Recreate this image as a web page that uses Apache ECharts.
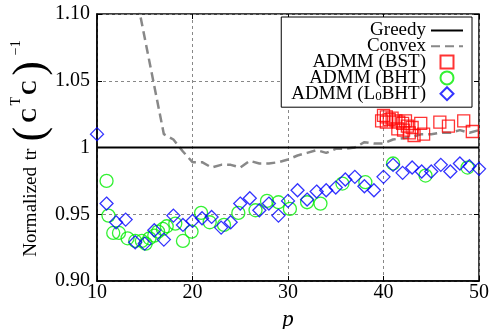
<!DOCTYPE html>
<html><head><meta charset="utf-8">
<script src="https://cdn.jsdelivr.net/npm/echarts@6/dist/echarts.min.js"></script>
<style>html,body{margin:0;padding:0;background:#fff}#c{width:500px;height:329px}</style>
</head><body><div id="c"></div>
<script>
const xTicks = [10, 20, 30, 40, 50];
const yTickLabels = ['0.90', '0.95', '1', '1.05', '1.10'];
const greedy = [[10, 1], [50, 1]];
const convex = [[14,1.118],[15,1.082],[16,1.046],[17,1.010],[18,1.006],[19,0.997],[20,0.989],[21,0.989],[22,0.985],[23,0.987],[24,0.987],[25,0.985],[26,0.990],[27,0.988],[28,0.988],[29,0.989],[30,0.991],[31,0.994],[32,0.996],[33,0.998],[34,0.996],[35,0.999],[36,0.999],[37,1.000],[38,1.004],[39,1.003],[40,1.003],[41,1.006],[42,1.007],[43,1.008],[44,1.010],[45,1.010],[46,1.011],[47,1.011],[48,1.013],[49,1.011],[50,1.013]];
const bst = [[39.8,1.020],[40.0,1.024],[40.3,1.023],[40.3,1.019],[40.6,1.021],[40.9,1.022],[41.3,1.020],[41.5,1.014],[41.6,1.019],[42.0,1.018],[42.1,1.013],[42.3,1.020],[42.5,1.016],[42.7,1.011],[43.0,1.015],[43.2,1.009],[43.9,1.018],[44.2,1.010],[45.9,1.019],[46.8,1.016],[48.4,1.020],[49.3,1.012]];
const bht = [[11.0,0.975],[11.2,0.949],[11.7,0.936],[12.3,0.936],[13.2,0.932],[14.0,0.930],[14.7,0.930],[15.1,0.928],[15.5,0.932],[16.0,0.934],[16.4,0.937],[16.9,0.939],[17.3,0.941],[18.2,0.943],[19.0,0.930],[19.9,0.937],[20.9,0.951],[21.8,0.944],[23.3,0.942],[24.8,0.951],[26.6,0.953],[27.8,0.960],[29.0,0.959],[30.2,0.954],[32.0,0.959],[33.4,0.958],[35.7,0.973],[38.1,0.974],[41.0,0.988],[44.4,0.979],[48.8,0.985]];
const l0bhtX = [10,11,12,13,14,15,16,17,18,19,20,21,22,23,24,25,26,27,28,29,30,31,32,33,34,35,36,37,38,39,40,41,42,43,44,45,46,47,48,49,50];
const l0bhtY = [1.010,0.958,0.944,0.946,0.929,0.928,0.938,0.931,0.949,0.942,0.945,0.947,0.948,0.940,0.944,0.958,0.962,0.953,0.958,0.949,0.960,0.968,0.961,0.967,0.968,0.970,0.976,0.978,0.971,0.968,0.978,0.987,0.981,0.985,0.982,0.982,0.987,0.982,0.988,0.986,0.984];

const serif = "'Liberation Serif', serif";
const chart = echarts.init(document.getElementById('c'), null, {renderer: 'canvas'});
const gridLine = {show: true, lineStyle: {color: '#888', type: [3, 3], width: 1}};
const hideSym = {color: 'rgba(0,0,0,0)', borderColor: 'rgba(0,0,0,0)', borderWidth: 0};
chart.setOption({
  animation: false,
  grid: {left: 97, right: 21, top: 14, bottom: 48, show: true, containLabel: false, outerBoundsMode: 'none',
    borderColor: '#000', borderWidth: 1.5, backgroundColor: 'transparent'},
  legend: {
    right: 28, top: 17, orient: 'vertical', align: 'right',
    backgroundColor: '#fff', borderColor: '#000', borderWidth: 1,
    padding: [4, 8, 4, 10], itemGap: -3.2, itemWidth: 32, itemHeight: 13, symbolKeepAspect: true,
    textStyle: {fontFamily: serif, fontSize: 19, color: '#000',
      rich: {
        a: {fontFamily: serif, fontSize: 19, color: '#000'},
        sub: {fontFamily: serif, fontSize: 13, color: '#000', lineHeight: 10, verticalAlign: 'bottom', padding: [0, 0, 0, 0]}
      }},
    formatter: function (n) { return n === 'ADMM (L0BHT)' ? '{a|ADMM (L}{sub|0}{a|BHT)}' : '{a|' + n + '}'; },
    data: [
      {name: 'Greedy', itemStyle: hideSym},
      {name: 'Convex', itemStyle: hideSym},
      {name: 'ADMM (BST)', icon: 'path://M0,0h10v10h-10z'},
      {name: 'ADMM (BHT)', icon: 'path://M5,0A5,5,0,1,1,5,10A5,5,0,1,1,5,0z'},
      {name: 'ADMM (L0BHT)', icon: 'path://M5,0L10,5L5,10L0,5z'}
    ]
  },
  xAxis: [{
    type: 'value', min: xTicks[0], max: xTicks[xTicks.length - 1], interval: 10,
    axisLine: {show: true, lineStyle: {color: '#000', width: 1.5}},
    axisTick: {show: true, inside: true, length: 5, lineStyle: {color: '#000'}},
    axisLabel: {fontFamily: serif, fontSize: 20, color: '#000', margin: 2},
    splitLine: gridLine,
    name: 'p', nameLocation: 'middle', nameGap: 27,
    nameTextStyle: {fontFamily: serif, fontStyle: 'italic', fontSize: 23, color: '#000'}
  }, {
    type: 'value', position: 'top', min: xTicks[0], max: xTicks[xTicks.length - 1], interval: 10,
    axisLine: {show: false}, axisTick: {show: true, inside: true, length: 5, lineStyle: {color: '#000'}},
    axisLabel: {show: false}, splitLine: {show: false}
  }],
  yAxis: [{
    type: 'value', min: 0.9, max: 1.1, interval: 0.05,
    axisLine: {show: true, lineStyle: {color: '#000', width: 1.5}},
    axisTick: {show: true, inside: true, length: 5, lineStyle: {color: '#000'}},
    axisLabel: {fontFamily: serif, fontSize: 20, color: '#000', margin: 7,
      formatter: function (v, i) { return yTickLabels[i]; }},
    splitLine: gridLine,
    name: '{n|Normalized}  {t|tr} {p|(}{c|C}{s|T}{c|C}{p|)}{s|−1}',
    nameLocation: 'middle', nameGap: 44, nameRotate: 90, nameMoveOverlap: false,
    nameTextStyle: {color: '#000', rich: {
      n: {fontFamily: serif, fontSize: 19, color: '#000'},
      t: {fontFamily: serif, fontSize: 19, color: '#000'},
      p: {fontFamily: serif, fontSize: 44, color: '#000', padding: [0, 4, 0, 4]},
      c: {fontFamily: serif, fontSize: 21, fontWeight: 'bold', color: '#000'},
      s: {fontFamily: serif, fontSize: 14, color: '#000', verticalAlign: 'top', padding: [0, 2, 18, 2]}
    }}
  }, {
    type: 'value', position: 'right', min: 0.9, max: 1.1, interval: 0.05,
    axisLine: {show: false}, axisTick: {show: true, inside: true, length: 5, lineStyle: {color: '#000'}},
    axisLabel: {show: false}, splitLine: {show: false}
  }],
  series: [
    {name: 'Greedy', type: 'line', data: greedy, symbol: 'none', z: 5,
      lineStyle: {color: '#000', width: 2}, itemStyle: {color: '#000'}},
    {name: 'Convex', type: 'line', data: convex, symbol: 'none', z: 4, clip: true,
      lineStyle: {color: '#888', width: 2.5, type: [9, 5]}, itemStyle: {color: '#888'}},
    {name: 'ADMM (BST)', type: 'scatter', data: bst, symbol: 'rect', symbolSize: 12, z: 6,
      itemStyle: {color: 'rgba(0,0,0,0)', borderColor: '#ff0000', borderWidth: 1.3}},
    {name: 'ADMM (BHT)', type: 'scatter', data: bht, symbol: 'circle', symbolSize: 13, z: 6,
      itemStyle: {color: 'rgba(0,0,0,0)', borderColor: '#00ee00', borderWidth: 1.3}},
    {name: 'ADMM (L0BHT)', type: 'scatter', data: l0bhtX.map((x, i) => [x, l0bhtY[i]]), symbol: 'diamond', symbolSize: 13, z: 7, clip: false,
      itemStyle: {color: 'rgba(0,0,0,0)', borderColor: '#0000ff', borderWidth: 1.3}}
  ]
});
</script></body></html>
